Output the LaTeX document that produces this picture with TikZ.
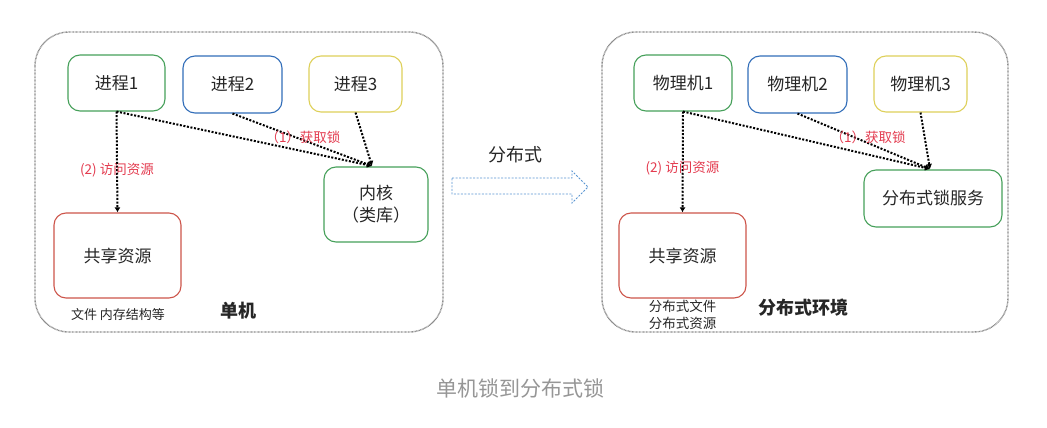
\documentclass[tikz,border=0pt]{standalone}
\usepackage{fontspec}
\setmainfont{Noto Sans CJK SC}
\usetikzlibrary{arrows.meta}
\definecolor{bgreen}{RGB}{70,160,90}
\definecolor{bblue}{RGB}{50,110,185}
\definecolor{byellow}{RGB}{222,208,90}
\definecolor{bred}{RGB}{205,85,75}
\definecolor{lred}{RGB}{228,60,80}
\definecolor{outer}{RGB}{140,140,140}
\definecolor{arrblue}{RGB}{90,150,210}
\definecolor{capgray}{RGB}{150,150,150}
\tikzset{
  box/.style={draw, line width=1.1pt, rounded corners=12pt, align=center, inner sep=0pt,
    font=\fontsize{17}{22}\selectfont, text=black!85},
  frame/.style={draw=outer, line width=1.4pt, dash pattern=on 0.8pt off 0.6pt, rounded corners=34pt},
  conn/.style={line width=2pt, dash pattern=on 2pt off 1.6pt, -{Latex[length=5pt,width=6pt]}},
  redlab/.style={text=lred, font=\fontsize{13.5}{16}\selectfont, inner sep=0pt},
  note/.style={text=black!85, font=\fontsize{13}{17}\selectfont, inner sep=0pt, align=center},
  title/.style={text=black!85, font=\fontsize{18}{20}\selectfont\bfseries, inner sep=0pt}
}
\begin{document}
\begin{tikzpicture}[x=1pt,y=-1pt]
\useasboundingbox[fill=white] (0,0) rectangle (1047,428);
% left frame
\draw[frame] (35,32) rectangle (443,332);
\node[box, draw=bgreen, minimum width=97pt, minimum height=56pt] (p1) at (116.5,83) {进程1};
\node[box, draw=bblue, minimum width=99pt, minimum height=57pt] (p2) at (232.5,84.5) {进程2};
\node[box, draw=byellow, minimum width=93pt, minimum height=56pt] (p3) at (355.5,84) {进程3};
\node[box, draw=bgreen, minimum width=104pt, minimum height=75pt] (kern) at (376,204.5) {内核\\（类库）};
\node[box, draw=bred, minimum width=127pt, minimum height=85pt] (res) at (117.5,255.5) {共享资源};
\coordinate (kt) at (372,166);
\draw[conn] (p1.south) -- (res.north);
\draw[conn] (p1.south) -- (kt);
\draw[conn] (p2.south) -- (kt);
\draw[conn] (p3.south) -- (kt);
\node[redlab] (l2a) at (117,170) {(2) 访问资源};
\node[redlab] (l1a) at (303,137) {（1）获取锁};
\node[note] (na) at (118,315) {文件 内存结构等};
\node[title] (ta) at (238.5,311) {单机};
% middle arrow
\draw[arrblue, line width=0.8pt, dash pattern=on 2pt off 1.5pt]
  (452,178) -- (572,178) -- (572,171) -- (588,187) -- (572,203) -- (572,194) -- (452,194) -- cycle;
\node[text=black!85, font=\fontsize{18}{20}\selectfont, inner sep=0pt] (mid) at (515,155) {分布式};
% right frame
\draw[frame] (602,32) rectangle (1008,332);
\node[box, draw=bgreen, minimum width=98pt, minimum height=56pt] (m1) at (683,83) {物理机1};
\node[box, draw=bblue, minimum width=99pt, minimum height=57pt] (m2) at (797.5,84.5) {物理机2};
\node[box, draw=byellow, minimum width=93pt, minimum height=56pt] (m3) at (920.5,84) {物理机3};
\node[box, draw=bgreen, minimum width=138pt, minimum height=57pt] (lock) at (933,198.5) {分布式锁服务};
\node[box, draw=bred, minimum width=127pt, minimum height=85pt] (res2) at (682.5,255.5) {共享资源};
\coordinate (lt) at (930,169);
\draw[conn] (m1.south) -- (res2.north);
\draw[conn] (m1.south) -- (lt);
\draw[conn] (m2.south) -- (lt);
\draw[conn] (m3.south) -- (lt);
\node[redlab] (l2b) at (682.5,168) {(2) 访问资源};
\node[redlab] (l1b) at (868,137) {（1）获取锁};
\node[note, font=\fontsize{13.5}{17}\selectfont] (nb) at (682.5,314.5) {分布式文件\\分布式资源};
\node[title] (tb) at (803.5,308) {分布式环境};
% caption
\node[text=capgray, font=\fontsize{21}{24}\selectfont, inner sep=0pt] (cap) at (520,388) {单机锁到分布式锁};
\end{tikzpicture}
\end{document}
